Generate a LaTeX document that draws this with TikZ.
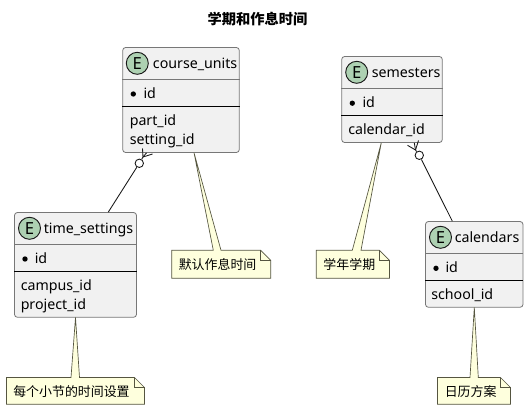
\documentclass[tikz,border=0pt]{standalone}
\usepackage{fontspec}
\setmainfont{Noto Sans}
\newfontfamily\cjk{Noto Sans CJK SC}
\usetikzlibrary{calc}
\definecolor{entfill}{HTML}{F1F1F1}
\definecolor{entline}{HTML}{777777}
\definecolor{notefill}{HTML}{FEFFDD}
\definecolor{noteline}{HTML}{555540}
\definecolor{spot}{HTML}{ADD1B2}
\definecolor{ink}{HTML}{181818}
\tikzset{
  x=0.75pt,y=-0.75pt,
  entitybox/.style={draw=entline,fill=entfill,rounded corners=2.2pt,line width=0.6pt,inner sep=0pt},
  spotmark/.style={circle,draw=ink,fill=spot,line width=0.7pt,minimum size=16.5pt,inner sep=0pt,font=\bfseries\fontsize{12.5}{12.5}\selectfont},
  label/.style={anchor=base west,inner sep=0pt,text=black,font=\fontsize{10.65}{12}\selectfont},
  notetext/.style={anchor=base west,inner sep=0pt,text=black,font=\cjk\fontsize{9.7}{12}\selectfont},
  keydot/.style={circle,fill=black,minimum size=4pt,inner sep=0pt},
  divider/.style={draw=black,line width=0.55pt},
  subdivider/.style={draw=entline,line width=0.55pt},
  notebody/.style={draw=noteline,fill=notefill,line width=0.5pt,line join=miter},
  rel/.style={draw=ink,line width=0.65pt},
  ring/.style={circle,draw=ink,fill=white,line width=0.65pt,minimum size=6.3pt,inner sep=0pt},
}
\newcommand{\entbox}[5]{% name x1 y1 x2 y2
  \node[entitybox,minimum width={(#4-#2)*0.75pt},minimum height={(#5-#3)*0.75pt}] (#1) at ({(#2+#4)/2},{(#3+#5)/2}) {};
}
\newcommand{\notepoly}[8]{% x1 y1 x2 y2 tipx tipy basex1 basex2
  \draw[notebody] (#1,#2) -- (#7,#2) -- (#5,#6) -- (#8,#2) -- ({#3-10},#2) -- (#3,{#2+10}) -- (#3,#4) -- (#1,#4) -- cycle;
  \draw[notebody,fill=none] ({#3-10},#2) -- ({#3-10},{#2+10}) -- (#3,{#2+10});
}
\begin{document}
\begin{tikzpicture}
\useasboundingbox (0,0) rectangle (529,410);
\node[anchor=base,inner sep=0pt,font=\cjk\bfseries\fontsize{10.7}{12}\selectfont] (title) at (257.5,25) {学期和作息时间};

% entities
\entbox{cu}{122.7}{47.5}{239.3}{152.5}
\entbox{ts}{14.5}{212.5}{136.5}{317.3}
\entbox{se}{341.7}{56.5}{442.3}{142.5}
\entbox{ca}{425.5}{221.5}{523}{307.3}

\draw[subdivider] (cu.west |- 0,79.3) -- (cu.east |- 0,79.3);
\draw[divider] (cu.west |- 0,106.5) -- (cu.east |- 0,106.5);
\draw[subdivider] (ts.west |- 0,244.5) -- (ts.east |- 0,244.5);
\draw[divider] (ts.west |- 0,271.3) -- (ts.east |- 0,271.3);
\draw[subdivider] (se.west |- 0,88.5) -- (se.east |- 0,88.5);
\draw[divider] (se.west |- 0,115.5) -- (se.east |- 0,115.5);
\draw[subdivider] (ca.west |- 0,253.5) -- (ca.east |- 0,253.5);
\draw[divider] (ca.west |- 0,280.5) -- (ca.east |- 0,280.5);

% spots
\node[spotmark] (cuS) at (137.3,63.3) {E};
\node[spotmark] (tsS) at (29.5,228.3) {E};
\node[spotmark] (seS) at (356.7,72.3) {E};
\node[spotmark] (caS) at (440.5,237.3) {E};

% entity text
\node[label] (cuN) at (152.7,68.5) {course\_units};
\node[keydot] (cuDot) at (133.3,94) {};
\node[label] (cuI) at (143.3,98.5) {id};
\node[label] (cuP) at (129.5,125.5) {part\_id};
\node[label] (cuQ) at (129.5,144.5) {setting\_id};

\node[label] (tsN) at (43.5,233.5) {time\_settings};
\node[keydot] (tsDot) at (25,259) {};
\node[label] (tsI) at (34.5,263.5) {id};
\node[label] (tsP) at (20.5,290.5) {campus\_id};
\node[label] (tsQ) at (20.5,309.5) {project\_id};

\node[label] (seN) at (371.5,77.5) {semesters};
\node[keydot] (seDot) at (352.3,103.2) {};
\node[label] (seI) at (362.3,107.5) {id};
\node[label] (seP) at (348,134.5) {calendar\_id};

\node[label] (caN) at (454.5,242.5) {calendars};
\node[keydot] (caDot) at (436,268.3) {};
\node[label] (caI) at (445.3,272.5) {id};
\node[label] (caP) at (431,299.5) {school\_id};

% notes
\notepoly{171.7}{250.3}{270.7}{278.3}{194}{152.7}{213.3}{221}
\notepoly{6.5}{377.5}{144.5}{404.3}{75.5}{317.5}{71}{79.5}
\notepoly{316.3}{250.3}{389.5}{278.3}{381.3}{142.7}{352.3}{361}
\notepoly{437.5}{377.5}{510.5}{404.3}{474.3}{307.5}{470}{478.3}

\node[notetext] (n1) at (178.5,269.5) {默认作息时间};
\node[notetext] (n2) at (13,396) {每个小节的时间设置};
\node[notetext] (n3) at (323.2,269.5) {学年学期};
\node[notetext] (n4) at (444.5,396) {日历方案};

% relations
\node[ring] (r1) at (139.3,163.3) {};
\coordinate (a1) at (143,157);
\draw[rel] (r1) -- (ts.north -| 108.3,0);
\draw[rel] (r1) -- (a1);
\draw[rel] (a1) -- (142.5,148.5);
\draw[rel] (a1) -- (152.5,154);
\draw[rel] (a1) -- (cu.south -| 146.5,0);

\node[ring] (r2) at (419.3,155.3) {};
\coordinate (a2) at (415.5,150);
\draw[rel] (r2) -- (ca.north -| 452.3,0);
\draw[rel] (r2) -- (a2);
\draw[rel] (a2) -- (407.5,145.3);
\draw[rel] (a2) -- (418.5,140.5);
\draw[rel] (a2) -- (se.south -| 414.3,0);
\end{tikzpicture}
\end{document}
